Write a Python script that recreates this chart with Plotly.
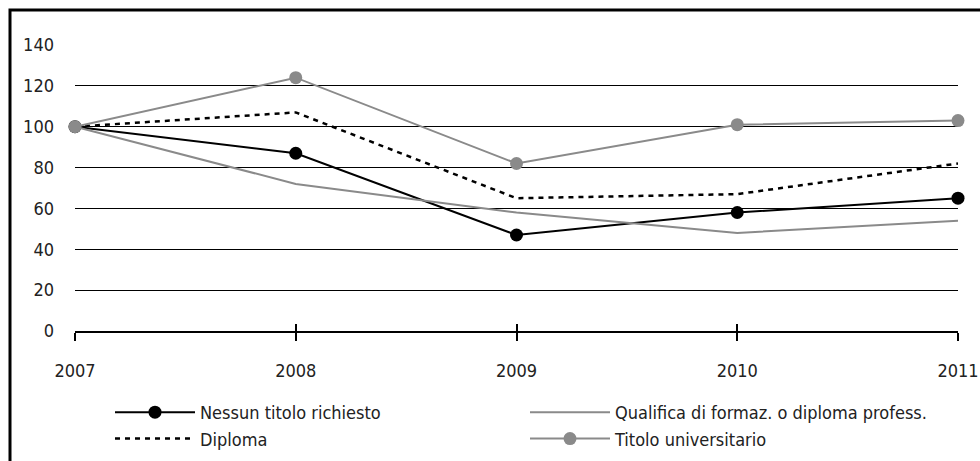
import plotly.graph_objects as go

years = [2007, 2008, 2009, 2010, 2011]
nessun = [100, 87, 47, 58, 65]
qualifica = [100, 72, 58, 48, 54]
diploma = [100, 107, 65, 67, 82]
titolo = [100, 124, 82, 101, 103]
y_ticks = [0, 20, 40, 60, 80, 100, 120, 140]

FONT = "Liberation Sans Narrow, DejaVu Sans Condensed, Arial Narrow, sans-serif"
GRAY = "#8a8a8a"
FS = 18

W, H = 980, 461
L, R, T, B = 75, 22, 45, 130
pw, ph = W - L - R, H - T - B

fig = go.Figure()
fig.add_trace(go.Scatter(x=years, y=nessun, name="Nessun titolo richiesto", mode="lines+markers",
                         line=dict(color="black", width=2), marker=dict(color="black", size=13),
                         cliponaxis=False))
fig.add_trace(go.Scatter(x=years, y=qualifica, name="Qualifica di formaz. o diploma profess.", mode="lines",
                         line=dict(color=GRAY, width=2), cliponaxis=False))
fig.add_trace(go.Scatter(x=years, y=diploma, name="Diploma", mode="lines",
                         line=dict(color="black", width=2.5, dash="5px,5px"), cliponaxis=False))
fig.add_trace(go.Scatter(x=years, y=titolo, name="Titolo universitario", mode="lines+markers",
                         line=dict(color=GRAY, width=2), marker=dict(color=GRAY, size=13),
                         cliponaxis=False))
# invisible helper on a twin axis to draw the upward half of the tick marks
fig.add_trace(go.Scatter(x=years, y=[0] * len(years), xaxis="x2", mode="lines",
                         line=dict(color="rgba(0,0,0,0)"), showlegend=False, hoverinfo="skip"))

fig.update_layout(
    width=W, height=H,
    margin=dict(l=L, r=R, t=T, b=B, autoexpand=False),
    paper_bgcolor="white", plot_bgcolor="white",
    font=dict(family=FONT, size=FS, color="#222"),
    showlegend=True,
    legend=dict(orientation="h", x=(110 - L) / pw, xanchor="left", y=(331 - 394) / ph, yanchor="top",
                entrywidth=320, entrywidthmode="pixels", itemwidth=80, tracegroupgap=0,
                font=dict(family=FONT, size=FS, color="#222"), bgcolor="rgba(0,0,0,0)"),
    xaxis=dict(range=[2007, 2011], tickvals=years, ticktext=[str(y) for y in years], automargin=False,
               showgrid=False, zeroline=False, showline=True, linecolor="black", linewidth=1.5,
               ticks="outside", ticklen=8, tickwidth=1.5, tickcolor="black",
               ticklabelstandoff=15, tickfont=dict(family=FONT, size=FS, color="#222")),
    xaxis2=dict(range=[2007, 2011], overlaying="x", anchor="y", side="bottom", tickvals=years,
                showticklabels=False, showgrid=False, zeroline=False, showline=False, automargin=False,
                ticks="inside", ticklen=7, tickwidth=1.5, tickcolor="black"),
    yaxis=dict(range=[0, 140], tickvals=y_ticks, showgrid=True, gridcolor="black", gridwidth=1,
               zeroline=False, showline=False, ticks="", ticklabelstandoff=20, automargin=False,
               tickfont=dict(family=FONT, size=FS, color="#222")),
    shapes=[dict(type="rect", xref="paper", yref="paper",
                 x0=(10 - L) / pw, x1=(995 - L) / pw, y0=(331 - 475) / ph, y1=(331 - 10) / ph,
                 line=dict(color="black", width=3), fillcolor="rgba(0,0,0,0)", layer="above")],
)

fig.write_html("out.html", config={"displayModeBar": False},
               post_script="document.body.style.margin='0';")
